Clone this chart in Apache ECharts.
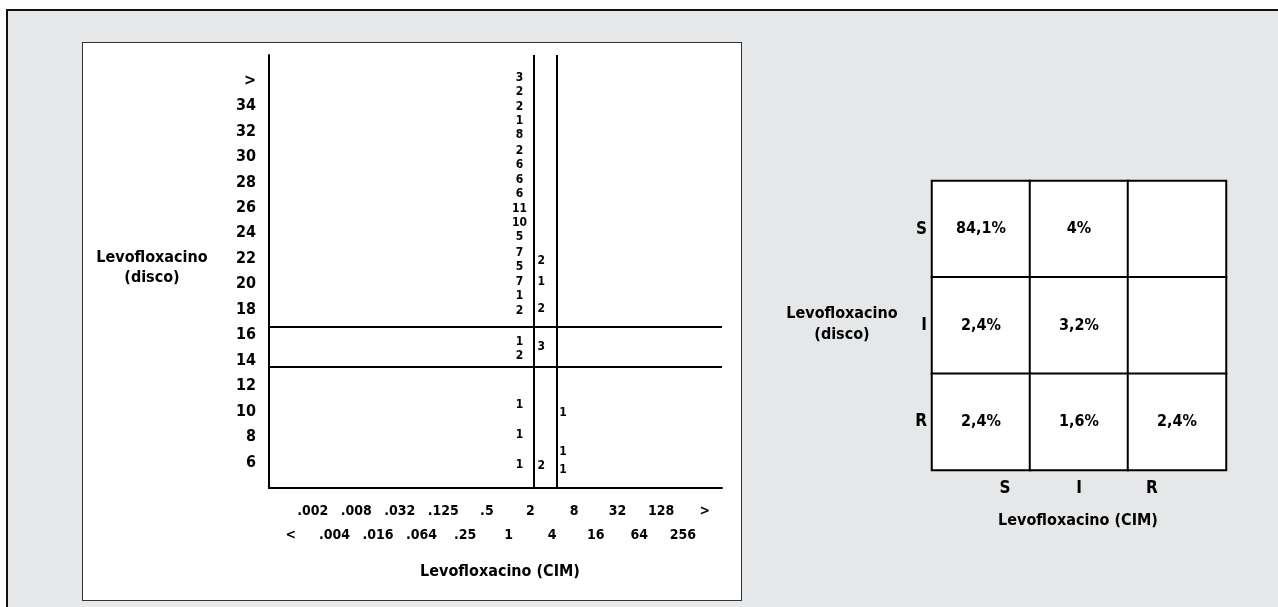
<!DOCTYPE html>
<html>
<head>
<meta charset="utf-8">
<script src="https://cdn.jsdelivr.net/npm/echarts@6/dist/echarts.min.js"></script>
<style>
  html, body { margin: 0; padding: 0; background: #fff; }
  #wrap { position: relative; width: 1278px; height: 607px; overflow: hidden; background: #fff; }
  #gray { position: absolute; left: 6px; top: 9px; width: 1280px; height: 610px; background: #e6e7e8;
          border-left: 2.5px solid #111; border-top: 2.5px solid #111; box-sizing: border-box; }
  #panel { position: absolute; left: 82px; top: 42px; width: 660px; height: 559px; background: #fff;
           border: 1.5px solid #333; box-sizing: border-box; }
  #chart { position: absolute; left: 0; top: 0; width: 1278px; height: 607px; }
</style>
</head>
<body>
<div id="wrap">
  <div id="gray"></div>
  <div id="panel"></div>
  <div id="chart"></div>
</div>
<script>
// ---------- data ----------
// x axis (MIC) tick labels, index 0..19
const micLabels = ['<', '.002', '.004', '.008', '.016', '.032', '.064', '.125', '.25', '.5',
                   '1', '2', '4', '8', '16', '32', '64', '128', '256', '>'];
// y axis (disk diameter, mm) tick values; 36 is shown as ">"
const diskTicks = [6, 8, 10, 12, 14, 16, 18, 20, 22, 24, 26, 28, 30, 32, 34, 36];
const diskOverLabel = '>';

// counts per MIC column: [diameter position (mm), number of isolates]
const countsMic2 = [
  [36.2, 3], [35.1, 2], [33.9, 2], [32.8, 1], [31.7, 8], [30.5, 2], [29.4, 6], [28.2, 6],
  [27.1, 6], [25.9, 11], [24.8, 10], [23.7, 5], [22.5, 7], [21.4, 5], [20.2, 7], [19.1, 1],
  [17.9, 2], [15.5, 1], [14.4, 2], [10.5, 1], [8.2, 1], [5.8, 1]
];
const countsMic4 = [
  [21.85, 2], [20.2, 1], [18.1, 2], [15.1, 3], [5.7, 2]
];
const countsMic8 = [
  [9.9, 1], [6.85, 1], [5.4, 1]
];
const micColumnIndex = { mic2: 11, mic4: 12, mic8: 13 };

// breakpoints drawn as lines
const diskBreaks = [16.7, 13.5];     // mm
const micBreaks = [11.64, 12.7];     // position on MIC index scale

// categorisation matrix (rows: disk S/I/R, cols: MIC S/I/R), percent
const catLabels = ['S', 'I', 'R'];
const matrixPct = [
  [84.1, 4, null],
  [2.4, 3.2, null],
  [2.4, 1.6, 2.4]
];

const axisTitleDisk = 'Levofloxacino\n(disco)';
const axisTitleMic = 'Levofloxacino (CIM)';

// ---------- chart ----------
const FONT = "'DejaVu Sans Condensed','Liberation Sans Narrow',sans-serif";
const INK = '#000';

function scatterData(arr, colKey) {
  return arr.map(d => [micColumnIndex[colKey], d[0], d[1]]);
}

const heatData = [];
matrixPct.forEach((row, r) => row.forEach((v, c) => heatData.push([c, r, v == null ? 0 : v, v])));

const countLabel = {
  show: true, position: 'inside', color: INK, opacity: 1, fontFamily: FONT, fontWeight: 'bold', fontSize: 12,
  formatter: p => String(p.value[2])
};
const countItem = { color: '#000', opacity: 1 };

const chart = echarts.init(document.getElementById('chart'), null, { renderer: 'canvas' });
chart.setOption({
  backgroundColor: 'transparent',
  animation: false,
  textStyle: { fontFamily: FONT },
  grid: [
    { left: 269, top: 55, width: 453, height: 433 },
    { left: 932, top: 181, width: 294, height: 289 }
  ],
  xAxis: [
    {
      gridIndex: 0, type: 'value', min: -0.5, max: 20.3, interval: 0.5,
      axisLine: { show: true, onZero: false, lineStyle: { color: INK, width: 2 } },
      axisTick: { show: false }, splitLine: { show: false },
      axisLabel: {
        show: true, color: INK, fontFamily: FONT, fontWeight: 'bold', fontSize: 14,
        margin: 11, lineHeight: 24, padding: [0, 0, 0, 22],
        showMinLabel: true, showMaxLabel: true,
        formatter: v => {
          const i = Math.round(v);
          if (Math.abs(v - i) > 1e-6 || i < 0 || i >= micLabels.length) return '';
          return i % 2 === 1 ? micLabels[i] : '\n' + micLabels[i];
        }
      }
    },
    {
      gridIndex: 1, type: 'category', data: catLabels,
      axisLine: { show: false }, axisTick: { show: false },
      axisLabel: {
        color: INK, fontFamily: FONT, fontWeight: 'bold', fontSize: 17, margin: 10,
        formatter: v => '{' + v.toLowerCase() + '|' + v + '}',
        rich: {
          s: { fontFamily: FONT, fontWeight: 'bold', fontSize: 17, color: INK, padding: [0, 0, 0, 48] },
          i: { fontFamily: FONT, fontWeight: 'bold', fontSize: 17, color: INK },
          r: { fontFamily: FONT, fontWeight: 'bold', fontSize: 17, color: INK, padding: [0, 50, 0, 0] }
        }
      }
    }
  ],
  yAxis: [
    {
      gridIndex: 0, type: 'value', min: 4, max: 38, interval: 2,
      axisLine: { show: true, onZero: false, lineStyle: { color: INK, width: 2 } },
      axisTick: { show: false }, splitLine: { show: false },
      axisLabel: {
        color: INK, fontFamily: FONT, fontWeight: 'bold', fontSize: 16, margin: 13,
        formatter: v => {
          if (diskTicks.indexOf(v) < 0) return '';
          return v === 36 ? diskOverLabel : String(v);
        }
      }
    },
    {
      gridIndex: 1, type: 'category', data: catLabels, inverse: true,
      axisLine: { show: false }, axisTick: { show: false },
      axisLabel: { color: INK, fontFamily: FONT, fontWeight: 'bold', fontSize: 17, margin: 5 }
    }
  ],
  visualMap: {
    show: false, seriesIndex: 3, min: 0, max: 100, dimension: 2,
    inRange: { color: ['#ffffff', '#ffffff'] }
  },
  series: [
    {
      type: 'scatter', xAxisIndex: 0, yAxisIndex: 0, symbolSize: 0,
      itemStyle: countItem,
      data: scatterData(countsMic2, 'mic2'), label: countLabel,
      markLine: {
        silent: true, symbol: 'none', label: { show: false },
        lineStyle: { color: INK, width: 2, type: 'solid' },
        data: diskBreaks.map(v => ({ yAxis: v })).concat(micBreaks.map(v => ({ xAxis: v })))
      }
    },
    {
      type: 'scatter', xAxisIndex: 0, yAxisIndex: 0, symbolSize: 0,
      itemStyle: countItem,
      data: scatterData(countsMic4, 'mic4'), label: countLabel
    },
    {
      type: 'scatter', xAxisIndex: 0, yAxisIndex: 0, symbolSize: 0,
      itemStyle: countItem,
      data: scatterData(countsMic8, 'mic8'), label: countLabel
    },
    {
      type: 'heatmap', xAxisIndex: 1, yAxisIndex: 1,
      data: heatData,
      itemStyle: { color: '#fff', borderColor: INK, borderWidth: 2 },
      label: {
        show: true, color: INK, fontFamily: FONT, fontWeight: 'bold', fontSize: 16,
        formatter: p => p.value[3] == null ? '' : String(p.value[3]).replace('.', ',') + '%'
      },
      emphasis: { disabled: true }
    }
  ],
  graphic: [
    {
      type: 'text', x: 152, y: 248, z: 10,
      style: { text: axisTitleDisk, align: 'center', verticalAlign: 'top', fill: INK, font: 'bold 16px ' + FONT, lineHeight: 20 }
    },
    {
      type: 'text', x: 500, y: 572, z: 10,
      style: { text: axisTitleMic, align: 'center', verticalAlign: 'middle', fill: INK, font: 'bold 16px ' + FONT }
    },
    {
      type: 'text', x: 842, y: 303, z: 10,
      style: { text: axisTitleDisk, align: 'center', verticalAlign: 'top', fill: INK, font: 'bold 16px ' + FONT, lineHeight: 21 }
    },
    {
      type: 'text', x: 1078, y: 521, z: 10,
      style: { text: axisTitleMic, align: 'center', verticalAlign: 'middle', fill: INK, font: 'bold 16px ' + FONT }
    }
  ]
});
</script>
</body>
</html>
